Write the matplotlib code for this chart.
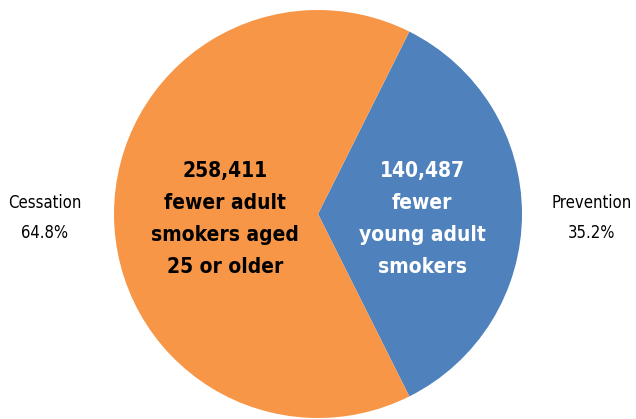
import numpy as np
import matplotlib.pyplot as plt
from matplotlib import font_manager

# Smokers averted by program component
components = ["Prevention", "Cessation"]
smokers_averted = [140487, 258411]
inside_text = ["fewer\nyoung adult\nsmokers", "fewer adult\nsmokers aged\n25 or older"]
colors = ["#4F81BD", "#F79646"]
text_colors = ["white", "black"]

# prefer a narrow face if one is installed
narrow = [f for f in font_manager.fontManager.ttflist
          if ("condensed" in f.fname.lower() or "narrow" in f.fname.lower())]
if narrow:
    family = [narrow[0].name, "DejaVu Sans"]
    stretch = narrow[0].stretch
    big, small = 15, 12
else:
    family = ["Roboto", "DejaVu Sans"]
    stretch = "normal"
    big, small = 13.5, 11.5
plt.rcParams["font.family"] = family

fig = plt.figure(figsize=(6.36, 4.19), dpi=100)
ax = fig.add_axes([0, 0, 1, 1])

cx, cy, r = 318, 205, 204
total = sum(smokers_averted)
share = np.array(smokers_averted) / total
start = -share[0] * 180

wedges, _ = ax.pie(smokers_averted, colors=colors, startangle=start, center=(cx, cy),
                   radius=r, counterclock=True, frame=True,
                   wedgeprops=dict(linewidth=0))
ax.set_xlim(0, 636)
ax.set_ylim(0, 419)
ax.axis("off")

inner_dist = [0.51, 0.455]
for w, n, txt, tc, d, p, name in zip(wedges, smokers_averted, inside_text, text_colors,
                                       inner_dist, share, components):
    mid = np.deg2rad((w.theta1 + w.theta2) / 2)
    x = cx + d * r * np.cos(mid)
    ax.text(x, cy - 5, f"{n:,}\n{txt}", ha="center", va="center", color=tc,
            fontsize=big, fontweight="bold", fontstretch=stretch, linespacing=1.77)
    lx = cx + 1.34 * r * np.cos(mid)
    ax.text(lx, cy - 4, f"{name}\n{p * 100:.1f}%", ha="center", va="center",
            fontsize=small, fontstretch=stretch, linespacing=1.9)

fig.savefig("out.png", dpi=100)
